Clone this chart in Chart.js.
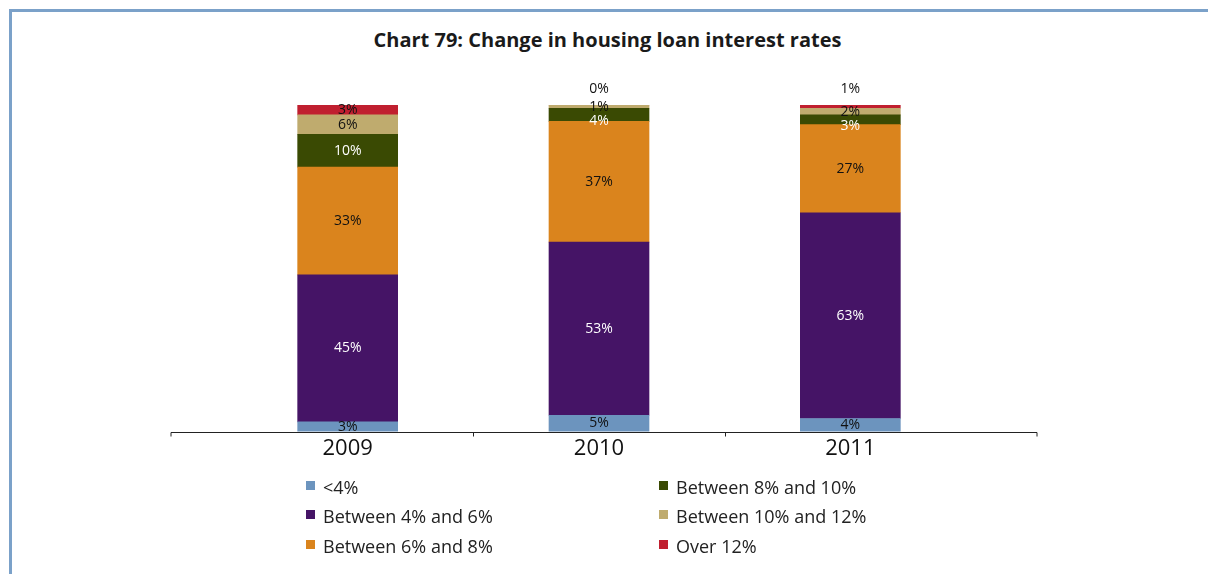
<!DOCTYPE html>
<html>
<head>
<meta charset="utf-8">
<script src="https://cdn.jsdelivr.net/npm/chart.js@4.4.0/dist/chart.umd.min.js"></script>
<style>
  body { margin: 0; background: #fff; font-family: "Open Sans", sans-serif; }
  #wrap { position: relative; width: 1208px; height: 574px; overflow: hidden; }
  #frame { position: absolute; left: 9px; top: 9px; right: 0; bottom: 0;
           border-top: 3px solid #7ba1c9; border-left: 3px solid #7ba1c9; }
  #title { position: absolute; top: 28px; left: 0; width: 1215px; text-align: center;
           font-weight: bold; font-size: 20px; line-height: 24px; color: #1a1a1a; }
  #chart { position: absolute; left: 0; top: 0; }
  #legend { position: absolute; left: 306px; top: 472px; display: grid;
            grid-template-columns: 353px auto; grid-auto-flow: column;
            grid-template-rows: repeat(3, 29.5px); }
  .item { display: flex; align-items: center; font-size: 18px; color: #222; }
  .box { width: 9px; height: 9px; margin-right: 8px; margin-top: -3px; }
</style>
</head>
<body>
<div id="wrap">
  <div id="frame"></div>
  <div id="title">Chart 79: Change in housing loan interest rates</div>
  <canvas id="chart" width="1208" height="574"></canvas>
  <div id="legend"></div>
</div>
<script>
const categories = ['2009', '2010', '2011'];
const seriesNames = ['<4%', 'Between 4% and 6%', 'Between 6% and 8%',
                     'Between 8% and 10%', 'Between 10% and 12%', 'Over 12%'];
const below4 = [3, 5, 4];
const from4to6 = [45, 53, 63];
const from6to8 = [33, 37, 27];
const from8to10 = [10, 4, 3];
const from10to12 = [6, 1, 2];
const over12 = [3, 0, 1];

const colors = ['#6c94be', '#451466', '#da841d', '#3a4a03', '#bfab6e', '#c01f2f'];
const labelColors = ['#111', '#fff', '#111', '#fff', '#111', '#111'];
const values = [below4, from4to6, from6to8, from8to10, from10to12, over12];

// legend (two columns, filled top to bottom)
const legendDiv = document.getElementById('legend');
seriesNames.forEach((name, i) => {
    const item = document.createElement('div');
    item.className = 'item';
    item.innerHTML = `<span class="box" style="background:${colors[i]}"></span><span></span>`;
    item.lastChild.textContent = name;
    legendDiv.appendChild(item);
});

// x axis line, longer than the plot area, with ticks between categories
const axisPlugin = {
    id: 'axisLine',
    afterDraw(chart) {
        const ctx = chart.ctx;
        const xs = chart.scales.x;
        const y = Math.round(xs.top) + 0.5;
        const left = xs.left - 51, right = xs.right + 61;
        ctx.save();
        ctx.strokeStyle = '#222';
        ctx.lineWidth = 1;
        ctx.beginPath();
        ctx.moveTo(left, y);
        ctx.lineTo(right, y);
        const marks = [left, right];
        for (let i = 0; i < categories.length - 1; i++) {
            marks.push(Math.round((xs.getPixelForTick(i) + xs.getPixelForTick(i + 1)) / 2) + 0.5);
        }
        marks.forEach(x => { ctx.moveTo(x, y); ctx.lineTo(x, y + 4); });
        ctx.stroke();
        ctx.restore();
    }
};

// value labels in the segments
const labelPlugin = {
    id: 'segLabels',
    afterDatasetsDraw(chart) {
        const ctx = chart.ctx;
        const n = chart.data.datasets.length;
        ctx.save();
        ctx.font = '14px "Open Sans"';
        ctx.textAlign = 'center';
        ctx.textBaseline = 'middle';
        categories.forEach((c, i) => {
            let prev = -Infinity;
            for (let d = n - 1; d >= 0; d--) {
                const bar = chart.getDatasetMeta(d).data[i];
                const v = chart.data.datasets[d].data[i];
                let y;
                if (d === n - 1 && v <= 1) {
                    y = bar.y - 16;
                } else {
                    y = (bar.y + bar.base) / 2;
                    if (y < prev + 14) y = prev + 14;
                    prev = y;
                }
                ctx.fillStyle = labelColors[d];
                ctx.fillText(v + '%', bar.x, y);
            }
        });
        ctx.restore();
    }
};

new Chart(document.getElementById('chart').getContext('2d'), {
    type: 'bar',
    data: {
        labels: categories,
        datasets: seriesNames.map((name, i) => ({
            label: name,
            data: values[i],
            backgroundColor: colors[i],
            borderWidth: 0,
            barThickness: 100
        }))
    },
    options: {
        responsive: false,
        animation: false,
        layout: { padding: { left: 222, right: 232, top: 105, bottom: 108 } },
        plugins: { legend: { display: false }, title: { display: false }, tooltip: { enabled: false } },
        scales: {
            x: {
                stacked: true,
                grid: { display: false, drawTicks: false },
                border: { display: false },
                ticks: { padding: 4, color: '#111', font: { family: 'Open Sans', size: 22 } }
            },
            y: { stacked: true, min: 0, max: 100, display: false }
        }
    },
    plugins: [axisPlugin, labelPlugin]
});
</script>
</body>
</html>
